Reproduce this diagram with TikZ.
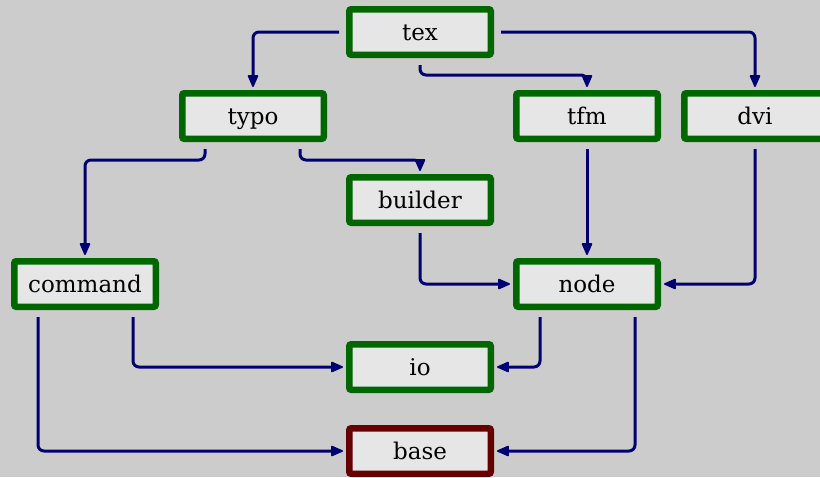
\documentclass[tikz,border=0pt]{standalone}
\usepackage{fontspec}
\setmainfont{DejaVu Serif}
\usetikzlibrary{arrows.meta,calc}
\definecolor{bgc}{HTML}{CCCCCC}
\definecolor{boxfill}{HTML}{E6E6E6}
\definecolor{boxgreen}{HTML}{006600}
\definecolor{boxred}{HTML}{660000}
\definecolor{edgec}{HTML}{000070}
\tikzset{
  mod/.style={draw=boxgreen, fill=boxfill, line width=6.5pt, rounded corners=2pt,
    minimum width=141.5pt, minimum height=45.5pt, inner sep=0pt,
    text height=19pt, text depth=3pt,
    font=\fontsize{23}{26}\selectfont, text=black},
  basemod/.style={mod, draw=boxred},
  tipstyle/.tip={Triangle[length=13pt,width=11pt,line width=1.5pt,round]},
  edge/.style={draw=edgec, line width=3pt, rounded corners=6pt,
    -tipstyle, shorten <=7pt, shorten >=3pt}
}
\begin{document}
\begin{tikzpicture}[x=1pt,y=-1pt]
\fill[bgc] (0,0) rectangle (820,477);
\clip (0,0) rectangle (820,477);
\node[mod] (tex) at (420,32) {tex};
\node[mod] (typo) at (253,116) {typo};
\node[mod] (tfm) at (587,116) {tfm};
\node[mod] (dvi) at (755,116) {dvi};
\node[mod] (builder) at (420,200) {builder};
\node[mod] (command) at (85,284) {command};
\node[mod] (node) at (587,284) {node};
\node[mod] (io) at (420,367) {io};
\node[basemod] (base) at (420,451) {base};

\draw[edge] (tex.west) -| (typo.north);
\draw[edge] (tex.south) -- ++(0,17) -| (tfm.north);
\draw[edge] (tex.east) -| (dvi.north);
\draw[edge] ([xshift=-48pt]typo.south) -- ++(0,18) -| (command.north);
\draw[edge] ([xshift=47pt]typo.south) -- ++(0,18) -| (builder.north);
\draw[edge] (builder.south) |- (node.west);
\draw[edge] (tfm.south) -- (node.north);
\draw[edge] (dvi.south) |- (node.east);
\draw[edge] ([xshift=48pt]command.south) |- (io.west);
\draw[edge] ([xshift=-47pt]command.south) |- (base.west);
\draw[edge] ([xshift=-47pt]node.south) |- (io.east);
\draw[edge] ([xshift=48pt]node.south) |- (base.east);
\end{tikzpicture}
\end{document}
